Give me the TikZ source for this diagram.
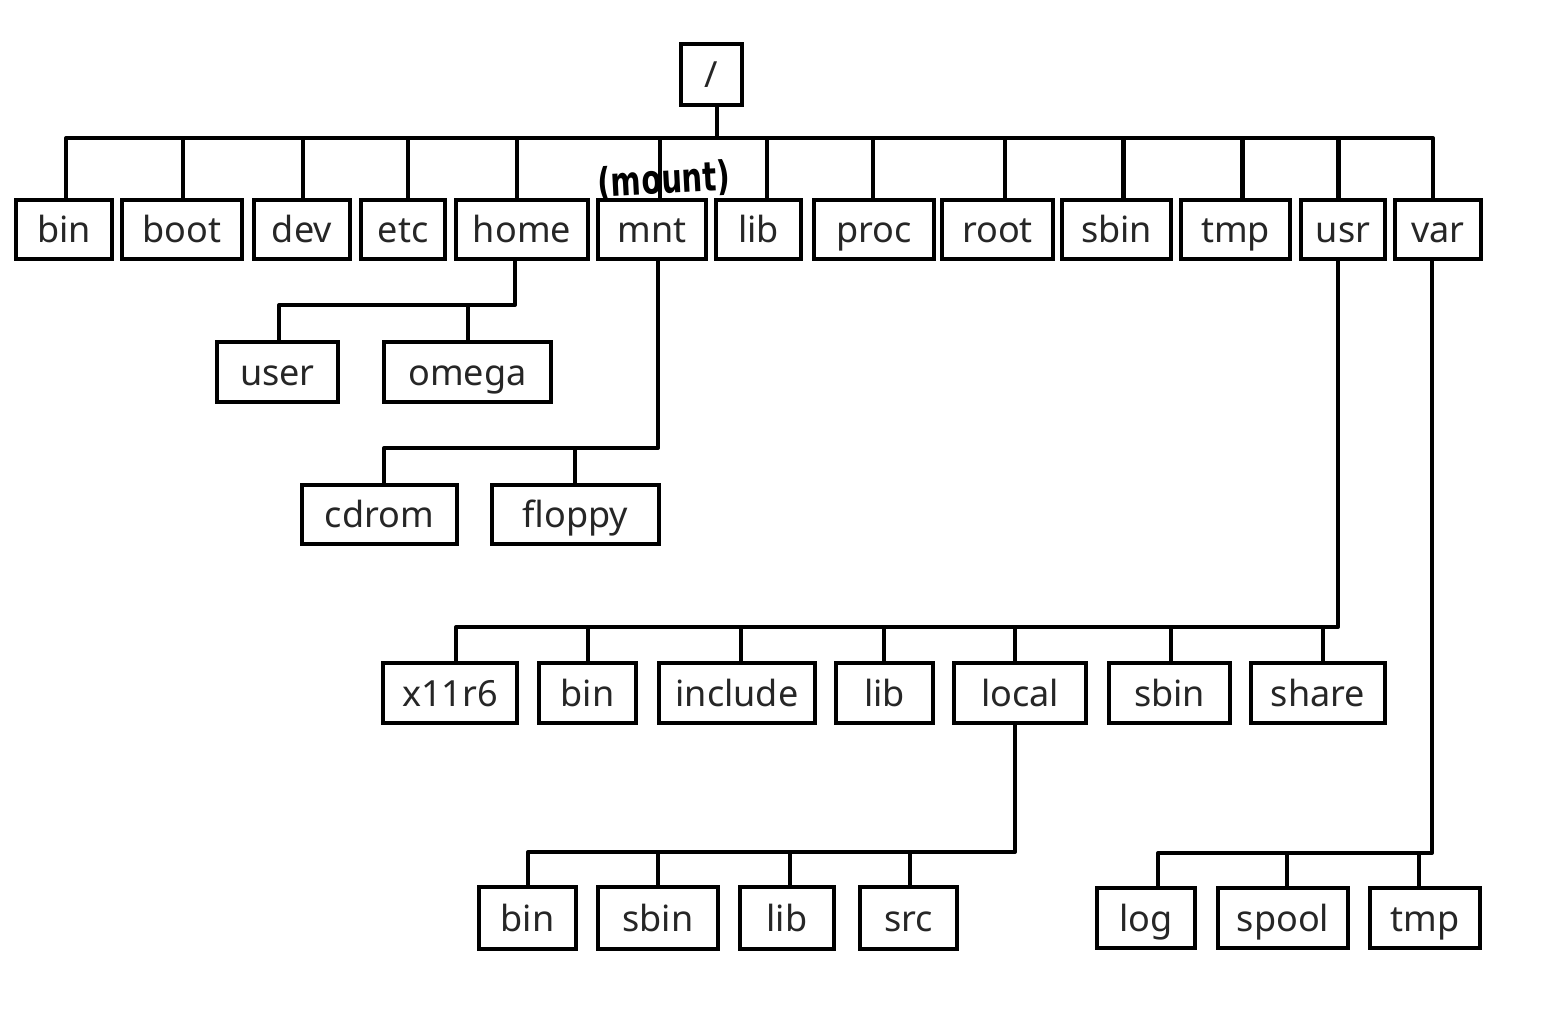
\documentclass[tikz,border=0pt]{standalone}
\usepackage{fontspec}
\setmainfont{Noto Sans}
\newfontfamily\handfont{DejaVu Sans}
\usetikzlibrary{calc}
\tikzset{
  box/.style={draw=black, line width=2.3pt, fill=white, rectangle, inner sep=0pt,
    text height=15.3pt, text depth=0pt, font=\fontsize{20.5}{24}\selectfont, text=black!85},
  link/.style={draw=black, line width=2.3pt, line join=round},
  note/.style={font=\handfont\bfseries\fontsize{23}{26}\selectfont, text=black, inner sep=0pt}
}
% \bx{name}{x1}{y1}{x2}{y2}{text}
\newcommand\bx[6]{\node[box, minimum width={(#4-#2)*0.02cm}, minimum height={(#5-#3)*0.02cm}] (#1) at ({(#2+#4)/2},{(#3+#5)/2}) {#6};}
% \dn{name}{offset}: coordinate at top of the node, shifted
\newcommand\dn[2]{\coordinate (#1-d) at ($(#1.north)+(#2,0)$);}
\newcommand\up[2]{\coordinate (#1-u) at ($(#1.south)+(#2,0)$);}
\begin{document}
\begin{tikzpicture}[x=0.02cm,y=-0.02cm]
\useasboundingbox[fill=white] (0,0) rectangle (1546,1016);
% buses
\coordinate (bus1) at (0,138);
\coordinate (busH) at (0,305);
\coordinate (busM) at (0,448);
\coordinate (busU) at (0,627);
\coordinate (busL) at (0,852);
\coordinate (busV) at (0,853);
% root
\bx{rootdir}{681}{44}{742}{105}{/}
% first level
\bx{bin}{16}{200}{112}{259}{bin}
\bx{boot}{122}{200}{242}{259}{boot}
\bx{dev}{254}{200}{350}{259}{dev}
\bx{etc}{361}{200}{445}{259}{etc}
\bx{home}{456}{200}{588}{259}{home}
\bx{mnt}{598}{200}{706}{259}{mnt}
\bx{lib}{716}{200}{801}{259}{lib}
\bx{proc}{814}{200}{934}{259}{proc}
\bx{root}{942}{200}{1053}{259}{root}
\bx{sbin}{1062}{200}{1171}{259}{sbin}
\bx{tmp}{1181}{200}{1290}{259}{tmp}
\bx{usr}{1301}{200}{1385}{259}{usr}
\bx{var}{1395}{200}{1481}{259}{var}
% home
\bx{user}{217}{342}{338}{402}{user}
\bx{omega}{384}{342}{551}{402}{omega}
% mnt
\bx{cdrom}{302}{485}{457}{544}{cdrom}
\bx{floppy}{492}{485}{659}{544}{floppy}
% usr
\bx{x11r6}{383}{663}{517}{723}{x11r6}
\bx{ubin}{539}{663}{636}{723}{bin}
\bx{include}{659}{663}{815}{723}{include}
\bx{ulib}{836}{663}{933}{723}{lib}
\bx{local}{954}{663}{1086}{723}{local}
\bx{usbin}{1109}{663}{1230}{723}{sbin}
\bx{share}{1251}{663}{1385}{723}{share}
% local
\bx{lbin}{479}{887}{576}{949}{bin}
\bx{lsbin}{598}{887}{718}{949}{sbin}
\bx{llib}{740}{887}{834}{949}{lib}
\bx{src}{860}{887}{957}{949}{src}
% var
\bx{log}{1097}{888}{1195}{948}{log}
\bx{spool}{1218}{888}{1348}{948}{spool}
\bx{vtmp}{1370}{888}{1480}{948}{tmp}

% drop coordinates
\up{rootdir}{5.5}
\dn{bin}{2}\dn{boot}{1}\dn{dev}{1}\dn{etc}{5}\dn{home}{-5}\dn{mnt}{8}
\dn{lib}{8.5}\dn{proc}{-1}\dn{root}{7.5}\dn{sbin}{7}\dn{tmp}{7}\dn{usr}{-4.5}\dn{var}{-5}
\up{home}{-7}\up{mnt}{6}\up{usr}{-5}\up{var}{-6}\up{local}{-5}
\dn{user}{1.5}\dn{omega}{0.5}
\dn{cdrom}{4.5}\dn{floppy}{-0.5}
\dn{x11r6}{6}\dn{ubin}{0.5}\dn{include}{4}\dn{ulib}{-0.5}\dn{local}{-5}\dn{usbin}{1.5}\dn{share}{5}
\dn{lbin}{0.5}\dn{lsbin}{0}\dn{llib}{3}\dn{src}{1.5}
\dn{log}{12}\dn{spool}{4}\dn{vtmp}{-6}

% level 1 connectors
\draw[link] (rootdir-u) -- (rootdir-u |- bus1);
\draw[link] (bin-d) |- (var-d |- bus1) -- (var-d);
\foreach \n in {boot,dev,etc,home,mnt,lib,proc,root,sbin,tmp,usr}
  \draw[link] (\n-d) -- (\n-d |- bus1);
% home
\draw[link] (home-u) |- (user-d |- busH) -- (user-d);
\draw[link] (omega-d) -- (omega-d |- busH);
% mnt
\draw[link] (mnt-u) |- (cdrom-d |- busM) -- (cdrom-d);
\draw[link] (floppy-d) -- (floppy-d |- busM);
% usr
\draw[link] (usr-u) |- (x11r6-d |- busU) -- (x11r6-d);
\foreach \n in {ubin,include,ulib,local,usbin,share}
  \draw[link] (\n-d) -- (\n-d |- busU);
% local
\draw[link] (local-u) |- (lbin-d |- busL) -- (lbin-d);
\foreach \n in {lsbin,llib,src}
  \draw[link] (\n-d) -- (\n-d |- busL);
% var
\draw[link] (var-u) |- (log-d |- busV) -- (log-d);
\foreach \n in {spool,vtmp}
  \draw[link] (\n-d) -- (\n-d |- busV);

% handwritten annotation
\node[note, rotate=3, xscale=0.72] (mountnote) at (664,181) {(mount)};
\end{tikzpicture}
\end{document}
